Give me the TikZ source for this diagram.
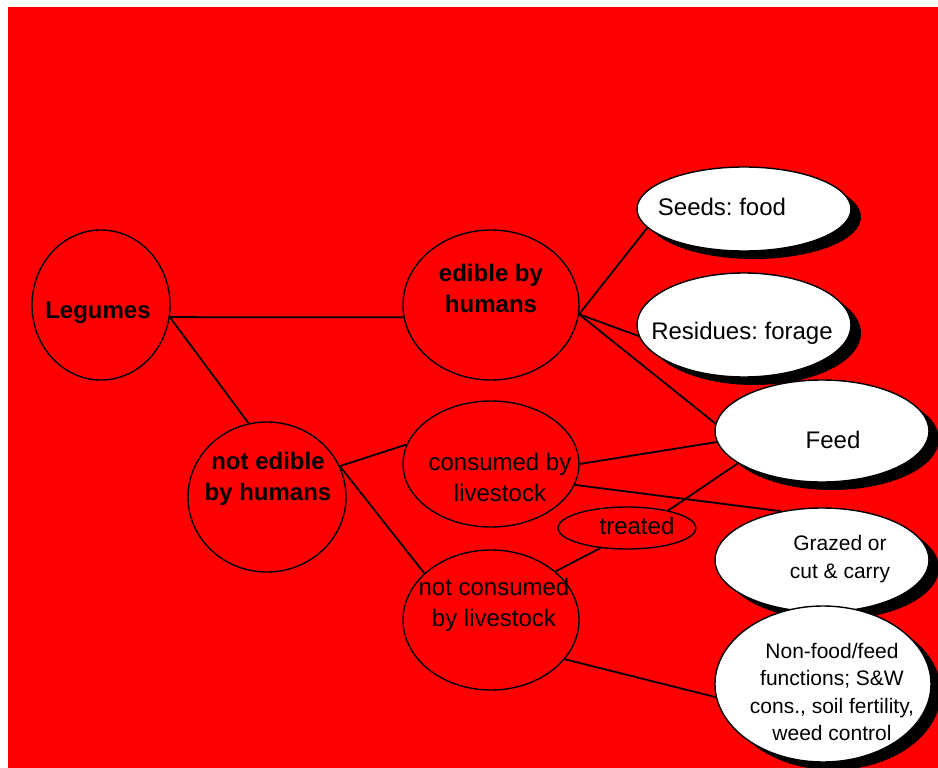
\documentclass[tikz,border=0pt]{standalone}
\usepackage{fontspec}
\setmainfont{Liberation Sans}
\usetikzlibrary{shapes.geometric,shadows}
\frenchspacing

\tikzset{
    redell/.style={draw, ellipse, line width=1.4pt, inner sep=0pt},
    whiteell/.style={draw, ellipse, fill=white, line width=1.4pt, inner sep=0pt,
        drop shadow={shadow xshift=10pt, shadow yshift=-8pt, fill=black, opacity=1}},
    lbl/.style={font=\fontsize{24}{31}\selectfont, align=center, inner sep=0pt},
    smalllbl/.style={font=\fontsize{21}{27.5}\selectfont, align=center, inner sep=0pt},
    link/.style={line width=1.8pt}
}

\begin{document}
\begin{tikzpicture}[x=1pt,y=-1pt]
\useasboundingbox (0,0) rectangle (938,768);
\fill[red] (8,7) rectangle (938,768);

\node[redell, minimum width=138pt, minimum height=150pt] (legumes) at (101,305) {};
\node[redell, minimum width=158pt, minimum height=150pt] (notedible) at (267,497) {};
\node[redell, minimum width=176pt, minimum height=150pt] (edible) at (491,305) {};
\node[redell, minimum width=176pt, minimum height=126pt] (consumed) at (491,464) {};
\node[redell, minimum width=176pt, minimum height=140pt] (notconsumed) at (491,620) {};
\node[redell, minimum width=138pt, minimum height=42pt] (treated) at (627,528) {};

\node[whiteell, minimum width=214pt, minimum height=84pt] (seeds) at (744,209) {};
\node[whiteell, minimum width=214pt, minimum height=104pt] (residues) at (744,325) {};
\node[whiteell, minimum width=214pt, minimum height=102pt] (feed) at (822,431) {};
\node[whiteell, minimum width=214pt, minimum height=104pt] (grazed) at (822,560) {};
\node[whiteell, minimum width=216pt, minimum height=156pt] (nonfood) at (823,684) {};

\node[lbl, font=\fontsize{24}{31}\selectfont\bfseries] (legumestxt) at (98,313) {Legumes};
\node[lbl, font=\fontsize{24}{31}\selectfont\bfseries] (notedibletxt) at (268,479) {not edible\\by humans};
\node[lbl, font=\fontsize{24}{31}\selectfont\bfseries] (edibletxt) at (491,288) {edible by\\humans};
\node[lbl] (consumedtxt) at (500,477) {consumed by\\livestock};
\node[lbl] (notconsumedtxt) at (494,605) {not consumed\\by livestock};
\node[lbl] (treatedtxt) at (637,526) {treated};
\node[lbl] (seedstxt) at (722,207) {Seeds: food};
\node[lbl] (residuestxt) at (742,333) {Residues: forage};
\node[lbl] (feedtxt) at (833,440) {Feed};
\node[smalllbl] (grazedtxt) at (840,559) {Grazed or\\cut \& carry};
\node[smalllbl] (nonfoodtxt) at (832,692) {Non-food/feed\\functions; S\&W\\cons., soil fertility,\\weed control};

% links
\draw[link] (legumes.-10)--(edible.188);
\draw[link] (legumes.-10)--(notedible.104);
\draw[link] (notedible.23)--(consumed.167);
\draw[link] (notedible.23)--(notconsumed.145);
\draw[link] (edible.-6)--(seeds.191);
\draw[link] (edible.-6)--(residues.186);
\draw[link] (edible.-6)--(feed.176);
\draw[link] (consumed.0)--(feed.186);
\draw[link] (consumed.-14)--(grazed.130);
\draw[link] (notconsumed.37)--(treated.217);
\draw[link] (treated.23)--(feed.201);
\draw[link] (notconsumed.-28)--(nonfood.187);

\end{tikzpicture}
\end{document}
